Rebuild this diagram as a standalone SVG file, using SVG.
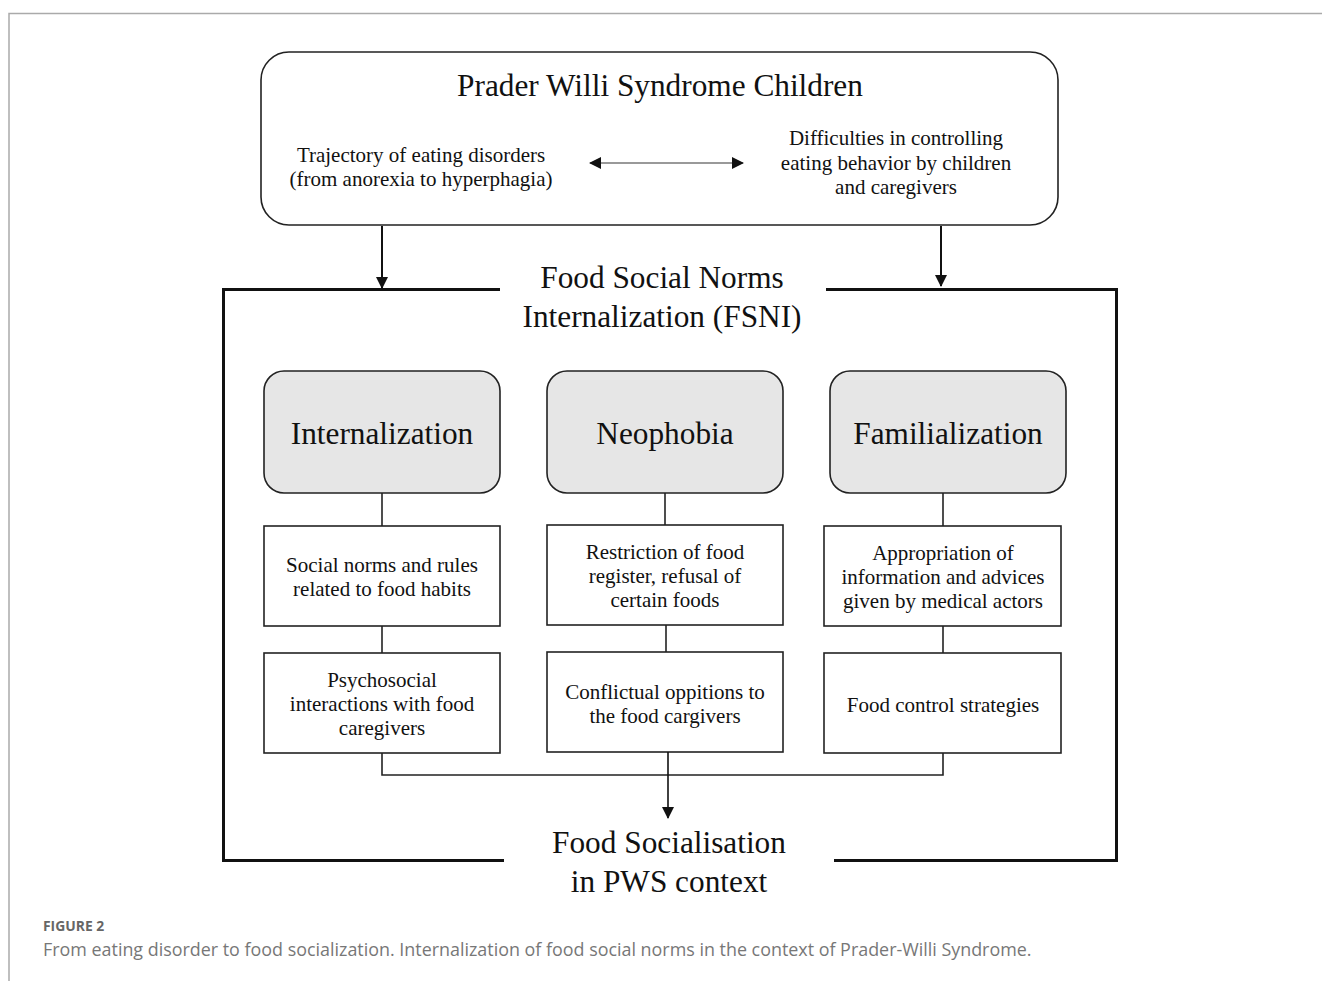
<svg xmlns="http://www.w3.org/2000/svg" width="1322" height="981" viewBox="0 0 1322 981">
<defs>
<style>
.t{font-family:"Liberation Serif","Times New Roman",serif;fill:#111;text-anchor:middle}
.big{font-size:31.3px}
.mid{font-size:21px}
.box{fill:#fff;stroke:#222;stroke-width:1.6}
.gbox{fill:#e6e6e6;stroke:#222;stroke-width:1.6}
.ln{fill:none;stroke:#222;stroke-width:1.6}
.frame{fill:none;stroke:#111;stroke-width:3}
.cap{font-family:"Open Sans","Liberation Sans",sans-serif}
</style>
<marker id="ah" markerWidth="12" markerHeight="12" viewBox="0 0 12 12" refX="11" refY="6" orient="auto-start-reverse" markerUnits="userSpaceOnUse">
<path d="M0,0 L12,6 L0,12 z" fill="#111"/>
</marker>
</defs>
<rect width="1322" height="981" fill="#fff"/>
<path d="M9,981 V13.5 H1322" fill="none" stroke="#aaa" stroke-width="1.5"/>

<g id="top">
<rect x="261" y="52" width="797" height="173" rx="28" class="box" stroke-width="2"/>
<text class="t big" x="660" y="96">Prader Willi Syndrome Children</text>
<text class="t mid" x="421" y="162">Trajectory of eating disorders</text>
<text class="t mid" x="421" y="186">(from anorexia to hyperphagia)</text>
<text class="t mid" x="896" y="145">Difficulties in controlling</text>
<text class="t mid" x="896" y="170">eating behavior by children</text>
<text class="t mid" x="896" y="194">and caregivers</text>
</g>

<g id="fsni">
<path class="frame" d="M500,289.5 H223.5 V860.5 H504 M834,860.5 H1116.5 V289.5 H826"/>
<text class="t big" x="662" y="288">Food Social Norms</text>
<text class="t big" x="662" y="327">Internalization (FSNI)</text>
</g>

<g id="internalization">
<rect x="264" y="371" width="236" height="122" rx="20" class="gbox"/>
<text class="t big" x="382" y="444">Internalization</text>
</g>
<g id="neophobia">
<rect x="547" y="371" width="236" height="122" rx="20" class="gbox"/>
<text class="t big" x="665" y="444">Neophobia</text>
</g>
<g id="familialization">
<rect x="830" y="371" width="236" height="122" rx="20" class="gbox"/>
<text class="t big" x="948" y="444">Familialization</text>
</g>

<g id="social-norms">
<rect x="264" y="526" width="236" height="100" class="box"/>
<text class="t mid" x="382" y="572">Social norms and rules</text>
<text class="t mid" x="382" y="596">related to food habits</text>
</g>
<g id="restriction">
<rect x="547" y="525" width="236" height="100" class="box"/>
<text class="t mid" x="665" y="559">Restriction of food</text>
<text class="t mid" x="665" y="583">register, refusal of</text>
<text class="t mid" x="665" y="607">certain foods</text>
</g>
<g id="appropriation">
<rect x="824" y="526" width="237" height="100" class="box"/>
<text class="t mid" x="943" y="560">Appropriation of</text>
<text class="t mid" x="943" y="584">information and advices</text>
<text class="t mid" x="943" y="608">given by medical actors</text>
</g>

<g id="psychosocial">
<rect x="264" y="653" width="236" height="100" class="box"/>
<text class="t mid" x="382" y="687">Psychosocial</text>
<text class="t mid" x="382" y="711">interactions with food</text>
<text class="t mid" x="382" y="735">caregivers</text>
</g>
<g id="conflictual">
<rect x="547" y="652" width="236" height="100" class="box"/>
<text class="t mid" x="665" y="699">Conflictual oppitions to</text>
<text class="t mid" x="665" y="723">the food cargivers</text>
</g>
<g id="food-control">
<rect x="824" y="653" width="237" height="100" class="box"/>
<text class="t mid" x="943" y="712">Food control strategies</text>
</g>

<g id="socialisation">
<text class="t big" x="669" y="853">Food Socialisation</text>
<text class="t big" x="669" y="892">in PWS context</text>
</g>

<g id="connectors">
<line x1="590" y1="163" x2="743" y2="163" stroke="#777" stroke-width="1.6" marker-start="url(#ah)" marker-end="url(#ah)"/>
<line x1="382" y1="226" x2="382" y2="288" stroke="#111" stroke-width="2" marker-end="url(#ah)"/>
<line x1="941" y1="226" x2="941" y2="286" stroke="#111" stroke-width="2" marker-end="url(#ah)"/>
<line class="ln" x1="382" y1="493" x2="382" y2="526"/>
<line class="ln" x1="665" y1="493" x2="665" y2="525"/>
<line class="ln" x1="943" y1="493" x2="943" y2="526"/>
<line class="ln" x1="382" y1="626" x2="382" y2="653"/>
<line class="ln" x1="666" y1="625" x2="666" y2="652"/>
<line class="ln" x1="943" y1="626" x2="943" y2="653"/>
<path class="ln" d="M382,753 V775 H943 V753"/>
<line x1="668" y1="752" x2="668" y2="818" stroke="#111" stroke-width="1.6" marker-end="url(#ah)"/>
</g>

<g id="caption">
<text class="cap" x="43" y="931" font-size="13.9" font-weight="bold" fill="#666">FIGURE 2</text>
<text class="cap" x="43" y="956" font-size="17.9" fill="#777">From eating disorder to food socialization. Internalization of food social norms in the context of Prader-Willi Syndrome.</text>
</g>
</svg>
